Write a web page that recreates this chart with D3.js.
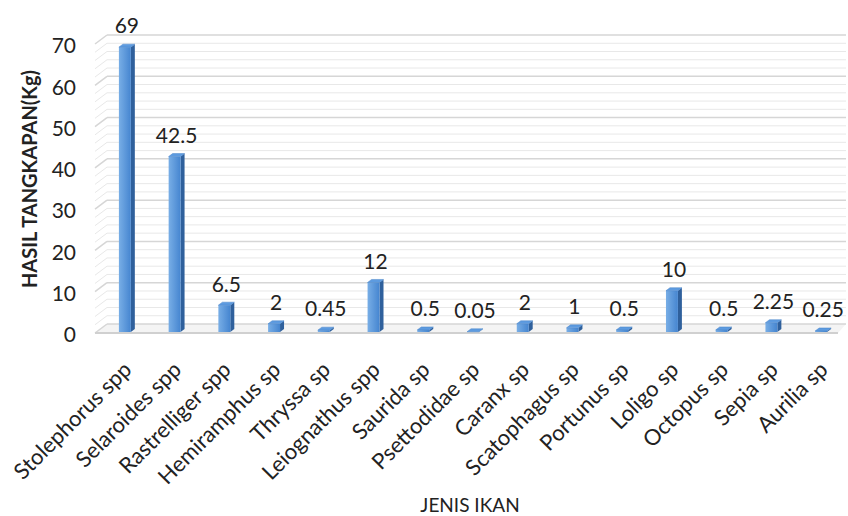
<!DOCTYPE html>
<html>
<head>
<meta charset="utf-8">
<script src="https://cdnjs.cloudflare.com/ajax/libs/d3/7.8.5/d3.min.js"></script>
<style>
  body { margin: 0; background: #fff; }
  text { font-family: Lato, "Open Sans", sans-serif; fill: #222; }
</style>
</head>
<body>
<div class="stage"></div>
<script>
// chart size
var width = 848;
var height = 516;

// data
var categories = ['Stolephorus spp', 'Selaroides spp', 'Rastrelliger spp', 'Hemiramphus sp',
  'Thryssa sp', 'Leiognathus spp', 'Saurida sp', 'Psettodidae sp', 'Caranx sp',
  'Scatophagus sp', 'Portunus sp', 'Loligo sp', 'Octopus sp', 'Sepia sp', 'Aurilia sp'];
var values = [69, 42.5, 6.5, 2, 0.45, 12, 0.5, 0.05, 2, 1, 0.5, 10, 0.5, 2.25, 0.25];
var valueLabels = ['69', '42.5', '6.5', '2', '0.45', '12', '0.5', '0.05', '2', '1', '0.5', '10', '0.5', '2.25', '0.25'];
var yTicks = [0, 10, 20, 30, 40, 50, 60, 70];
var yMinor = d3.range(0, 71, 2);

// wall depth (fake 3d)
var dx = 12, dy = -9;
var left = 95, right = 846;

var x = d3.scaleBand()
  .domain(categories)
  .range([100, 846])
  .paddingInner(0.76)
  .paddingOuter(0.38);

var y = d3.scaleLinear()
  .domain([0, 70])
  .range([333, 44]);

var svg = d3.select('.stage')
  .append('svg')
  .attr('width', width)
  .attr('height', height);

var defs = svg.append('defs');
var grad = defs.append('linearGradient')
  .attr('id', 'front')
  .attr('x1', '0').attr('x2', '1').attr('y1', '0').attr('y2', '0');
grad.append('stop').attr('offset', '0').attr('stop-color', '#78aee6');
grad.append('stop').attr('offset', '1').attr('stop-color', '#4585d0');

// floor
svg.append('polygon')
  .attr('points', [[left, y(0)], [left + dx, y(0) + dy], [right, y(0) + dy], [right - 8, y(0)]].join(' '))
  .attr('fill', '#f4f4f4');

// minor gridlines
var minor = svg.append('g');
minor.selectAll('line.back')
  .data(yMinor.filter(function(d) { return d % 10 !== 0; }))
  .enter().append('line')
  .attr('x1', left + dx).attr('x2', right)
  .attr('y1', function(d) { return y(d) + dy; })
  .attr('y2', function(d) { return y(d) + dy; })
  .attr('stroke', '#e8e8e8');
minor.selectAll('line.side')
  .data(yMinor.filter(function(d) { return d % 10 !== 0; }))
  .enter().append('line')
  .attr('x1', left).attr('x2', left + dx)
  .attr('y1', function(d) { return y(d); })
  .attr('y2', function(d) { return y(d) + dy; })
  .attr('stroke', '#e8e8e8');

// major gridlines
var major = svg.append('g');
major.selectAll('line.back')
  .data(yTicks)
  .enter().append('line')
  .attr('x1', left + dx).attr('x2', right)
  .attr('y1', function(d) { return y(d) + dy; })
  .attr('y2', function(d) { return y(d) + dy; })
  .attr('stroke', '#d6d6d6')
  .attr('stroke-width', 1.5);
major.selectAll('line.side')
  .data(yTicks)
  .enter().append('line')
  .attr('x1', left).attr('x2', left + dx)
  .attr('y1', function(d) { return y(d); })
  .attr('y2', function(d) { return y(d) + dy; })
  .attr('stroke', '#d6d6d6')
  .attr('stroke-width', 1.5);

// floor front edge
svg.append('line')
  .attr('x1', left).attr('x2', right - 8)
  .attr('y1', y(0)).attr('y2', y(0))
  .attr('stroke', '#d0d0d0')
  .attr('stroke-width', 2);

// y tick labels
svg.append('g').selectAll('text')
  .data(yTicks)
  .enter().append('text')
  .attr('x', 76)
  .attr('y', function(d) { return y(d) + 2; })
  .attr('dy', '0.35em')
  .attr('text-anchor', 'end')
  .style('font-size', '21px')
  .text(function(d) { return d; });

// BARS
var bw = x.bandwidth();
var sx = 4, sy = -3;
var bars = svg.append('g').selectAll('g')
  .data(values)
  .enter().append('g');

bars.append('polygon') // side
  .attr('points', function(d, i) {
    var x0 = x(categories[i]) + bw, yt = y(d) - 1, yb = y(0) - 1;
    return [[x0, yt], [x0 + sx, yt + sy], [x0 + sx, yb + sy], [x0, yb]].join(' ');
  })
  .attr('fill', '#2f609c');

bars.append('rect') // front
  .attr('x', function(d, i) { return x(categories[i]); })
  .attr('y', function(d) { return y(d) - 1; })
  .attr('width', bw)
  .attr('height', function(d) { return y(0) - y(d); })
  .attr('fill', 'url(#front)');

bars.append('polygon') // top
  .attr('points', function(d, i) {
    var x0 = x(categories[i]), yt = y(d) - 1;
    return [[x0, yt], [x0 + sx, yt + sy], [x0 + bw + sx, yt + sy], [x0 + bw, yt]].join(' ');
  })
  .attr('fill', '#5d9be0')
  .attr('stroke', '#4a85c8')
  .attr('stroke-width', 0.5);

// value labels
bars.append('text')
  .attr('x', function(d, i) { return x(categories[i]) + bw / 2 + 2; })
  .attr('y', function(d) { return y(d) - 22; })
  .attr('dy', '0.35em')
  .attr('text-anchor', 'middle')
  .style('font-size', '21px')
  .text(function(d, i) { return valueLabels[i]; });

// category labels
svg.append('g').selectAll('text')
  .data(categories)
  .enter().append('text')
  .attr('text-anchor', 'end')
  .attr('transform', function(d) {
    return 'translate(' + (x(d) + bw / 2 + 8) + ',371) rotate(-45)';
  })
  .style('font-size', '22px')
  .text(function(d) { return d; });

// axis titles
svg.append('text')
  .attr('transform', 'translate(37,179) rotate(-90)')
  .attr('text-anchor', 'middle')
  .style('font-size', '20px')
  .style('font-weight', 'bold')
  .text('HASIL TANGKAPAN(Kg)');

svg.append('text')
  .attr('x', 470)
  .attr('y', 512)
  .attr('text-anchor', 'middle')
  .style('font-size', '19px')
  .text('JENIS IKAN');
</script>
</body>
</html>
